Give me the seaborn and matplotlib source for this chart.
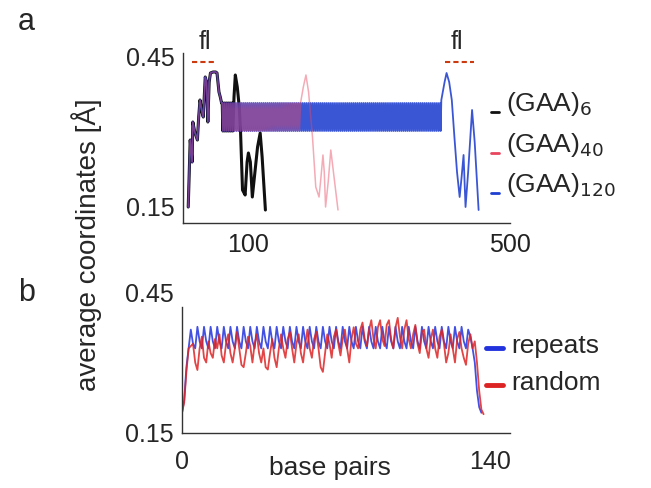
import numpy as np
import pandas as pd
import matplotlib
matplotlib.use("Agg")
import matplotlib.pyplot as plt
import seaborn as sns

# ---- panel a data: (GAA)n with flanks, x in base pairs ----
flank_x = [8, 11, 14, 15, 18, 22, 24, 26, 29, 31, 34, 36, 38, 40, 42, 46, 50, 52, 55, 57, 59]
flank_y = [0.15, 0.284, 0.24, 0.32, 0.30, 0.284, 0.33, 0.364, 0.34, 0.33, 0.41, 0.40, 0.32,
           0.40, 0.418, 0.42, 0.42, 0.418, 0.38, 0.37, 0.358]
gaa_unit_a = [0.358, 0.302, 0.330]
plateau_start = 60
plateau_end = [78, 180, 395]

black_tail_x = [78, 80, 83, 86, 88, 91, 95, 98, 100, 103, 106, 110, 114, 118, 121, 126]
black_tail_y = [0.37, 0.414, 0.39, 0.35, 0.30, 0.184, 0.174, 0.24, 0.258, 0.24, 0.17, 0.22, 0.27, 0.298, 0.25, 0.144]
red_tail_x = [180, 184, 188, 192, 198, 203, 208, 211, 214, 216, 218, 222, 226, 230, 237]
red_tail_y = [0.36, 0.39, 0.414, 0.38, 0.29, 0.19, 0.17, 0.21, 0.254, 0.22, 0.15, 0.20, 0.264, 0.22, 0.144]
blue_tail_x = [395, 400, 403, 407, 411, 415, 419, 422, 423, 426, 429, 432, 436, 442, 446, 452]
blue_tail_y = [0.364, 0.40, 0.418, 0.40, 0.364, 0.29, 0.22, 0.184, 0.17, 0.21, 0.254, 0.15, 0.22, 0.344, 0.28, 0.144]

series_a = ['(GAA)6', '(GAA)40', '(GAA)120']
labels_a = [r'(GAA)$_{6}$', r'(GAA)$_{40}$', r'(GAA)$_{120}$']
colors_a = ['#111111', '#e8455e', '#1f3fd0']

# ---- panel b data ----
repeats_rise = [0.193, 0.22, 0.29, 0.33, 0.37, 0.34, 0.33]
repeats_unit_b = [0.376, 0.345, 0.330]
repeats_n = 41
repeats_tail = [0.37, 0.355, 0.33, 0.30, 0.24, 0.205, 0.193]

random_y = [0.193, 0.215, 0.28, 0.33, 0.335,
            0.34, 0.30, 0.284, 0.33, 0.355, 0.31, 0.30, 0.345, 0.32, 0.31, 0.35, 0.33,
            0.36, 0.315, 0.30, 0.34, 0.36, 0.32, 0.30, 0.33, 0.365, 0.33, 0.295, 0.29,
            0.32, 0.355, 0.335, 0.30, 0.34, 0.36, 0.32, 0.30, 0.33, 0.29, 0.285, 0.32,
            0.35, 0.31, 0.29, 0.33, 0.36, 0.33, 0.31, 0.35, 0.365, 0.33, 0.30, 0.34,
            0.36, 0.32, 0.30, 0.34, 0.37, 0.33, 0.31, 0.35, 0.365, 0.33, 0.29, 0.28,
            0.32, 0.36, 0.34, 0.31, 0.355, 0.37, 0.34, 0.315, 0.35, 0.37, 0.33, 0.30,
            0.35, 0.375, 0.34, 0.33, 0.37, 0.385, 0.35, 0.335, 0.37, 0.39, 0.35, 0.33,
            0.375, 0.39, 0.35, 0.335, 0.38, 0.39, 0.35, 0.33, 0.375, 0.395, 0.355, 0.33,
            0.37, 0.39, 0.35, 0.33, 0.36, 0.38, 0.34, 0.32, 0.365, 0.37, 0.33, 0.31,
            0.35, 0.37, 0.33, 0.31, 0.355, 0.37, 0.34, 0.30, 0.32, 0.36, 0.33, 0.30,
            0.35, 0.365, 0.33, 0.31, 0.295, 0.34, 0.36, 0.33, 0.345,
            0.30, 0.24, 0.20, 0.19]

series_b = ['repeats', 'random']
colors_b = ['#2233dd', '#dd2424']


def build_a(end, tail_x, tail_y):
    rep_x = np.arange(plateau_start, end)
    rep_y = np.resize(gaa_unit_a, len(rep_x))
    x = np.concatenate([flank_x, rep_x, tail_x])
    y = np.concatenate([flank_y, rep_y, tail_y])
    return x, y


tails = [(black_tail_x, black_tail_y), (red_tail_x, red_tail_y), (blue_tail_x, blue_tail_y)]
frames = []
for name, end, (tx, ty) in zip(series_a, plateau_end, tails):
    x, y = build_a(end, tx, ty)
    frames.append(pd.DataFrame({'bp': x, 'coord': y, 'series': name}))
df_a = pd.concat(frames, ignore_index=True)

rep_b = np.concatenate([repeats_rise, np.tile(repeats_unit_b, repeats_n), repeats_tail])
df_b = pd.concat([
    pd.DataFrame({'bp': np.arange(len(rep_b)), 'coord': rep_b, 'series': 'repeats'}),
    pd.DataFrame({'bp': np.arange(len(random_y)), 'coord': random_y, 'series': 'random'}),
], ignore_index=True)

sns.set_style('white')
plt.rcParams['font.family'] = ['Liberation Sans', 'DejaVu Sans']

W, H = 651, 488
fig = plt.figure(figsize=(W / 100, H / 100), dpi=100)


def fx(px):
    return px / W


def fy(py):
    return 1 - py / H


# panel a: black first, then blue, then translucent red on top (purple overlap)
ax_a = fig.add_axes([fx(183), fy(223), fx(510) - fx(183), fy(53) - fy(223)])
styles_a = {'(GAA)6': (2.2, 1.0, 1), '(GAA)40': (1.1, 0.45, 3), '(GAA)120': (1.3, 0.88, 2)}
for name, col in zip(series_a, colors_a):
    lw, al, z = styles_a[name]
    sns.lineplot(data=df_a[df_a['series'] == name], x='bp', y='coord', ax=ax_a,
                 color=col, lw=lw, alpha=al, sort=False, estimator=None, zorder=z)
ax_a.set_xlim(0, 500)
ax_a.set_ylim(0.118, 0.458)
ax_a.set_xticks([0, 100, 200, 300, 400, 500])
ax_a.set_xticklabels(['', '100', '', '', '', '500'])
ax_a.set_yticks([0.15, 0.45])
ax_a.set_yticklabels(['0.15', '0.45'])
ax_a.tick_params(axis='x', length=4, width=0.8, direction='out', labelsize=18, pad=3, colors='#222222')
ax_a.tick_params(axis='y', length=0, labelsize=18, pad=6)
ax_a.set_xlabel('')
ax_a.set_ylabel('')
for s in ['top', 'right']:
    ax_a.spines[s].set_visible(False)
for s in ['left', 'bottom']:
    ax_a.spines[s].set_color('#333333')
    ax_a.spines[s].set_linewidth(1.0)

# panel b
ax_b = fig.add_axes([fx(182), fy(433), fx(510) - fx(182), fy(292) - fy(433)])
for name, col in zip(series_b, colors_b):
    sns.lineplot(data=df_b[df_b['series'] == name], x='bp', y='coord', ax=ax_b,
                 color=col, lw=1.3, alpha=0.85, sort=False, estimator=None)
ax_b.set_xlim(0, 149)
ax_b.set_ylim(0.15, 0.45)
ax_b.set_xticks([0, 140])
ax_b.set_yticks([0.15, 0.45])
ax_b.set_yticklabels(['0.15', '0.45'])
ax_b.tick_params(axis='x', length=4, width=0.8, direction='in', labelsize=18, pad=12)
ax_b.tick_params(axis='y', length=0, labelsize=18, pad=6)
ax_b.set_xlabel('')
ax_b.set_ylabel('')
for s in ['top', 'right']:
    ax_b.spines[s].set_visible(False)
ax_b.spines['left'].set_bounds(0.15, 0.418)
for s in ['left', 'bottom']:
    ax_b.spines[s].set_color('#333333')
    ax_b.spines[s].set_linewidth(1.0)

# panel letters and shared labels
fig.text(fx(18), fy(22), 'a', fontsize=22, va='center', ha='left')
fig.text(fx(18), fy(293), 'b', fontsize=22, va='center', ha='left')
fig.text(fx(87), fy(245), 'average coordinates [Å]', rotation=90, fontsize=20,
         ha='center', va='center')
fig.text(fx(330), fy(468), 'base pairs', fontsize=19, ha='center', va='center')

# flank markers
for cx, x0, x1 in [(205, 192, 217), (457, 445, 474)]:
    fig.text(fx(cx), fy(42), 'fl', fontsize=18, ha='center', va='center')
    fig.add_artist(plt.Line2D([fx(x0), fx(x1)], [fy(62), fy(62)], color='#cc3a10',
                              lw=1.5, ls=(0, (2.5, 1.5))))

# panel a legend
for lab, col, py in zip(labels_a, colors_a, [104, 145, 185]):
    fig.add_artist(plt.Line2D([fx(491), fx(499)], [fy(py + 8), fy(py + 8)], color=col, lw=2))
    fig.text(fx(506), fy(py), lab, fontsize=19, ha='left', va='center')

# panel b legend
for lab, col, py in zip(series_b, colors_b, [346, 383]):
    fig.add_artist(plt.Line2D([fx(486), fx(503)], [fy(py + 2), fy(py + 2)], color=col, lw=3.5))
    fig.text(fx(511), fy(py), lab, fontsize=19, ha='left', va='center')

fig.savefig('out.png', dpi=100, facecolor='white')
